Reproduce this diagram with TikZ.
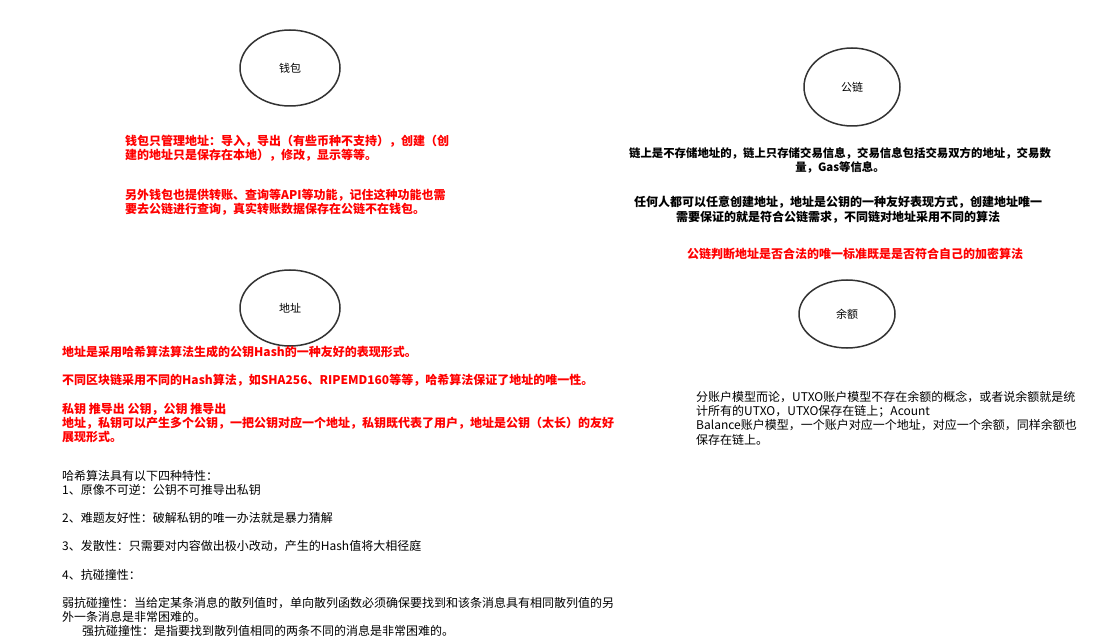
\documentclass[tikz,border=0pt]{standalone}
\usepackage{fontspec}
\setmainfont{Noto Sans CJK SC}
\usepackage{xcolor}
\usepackage{tikz}
\usetikzlibrary{shapes.geometric, positioning}
\tikzset{
  topic/.style={ellipse, draw=black!80, line width=1.5pt, fill=white,
                minimum width=100pt, minimum height=76pt,
                font=\fontsize{11}{13}\selectfont},
  note/.style={inner sep=0pt, align=left, anchor=north west,
               font=\fontsize{12}{14.2}\selectfont},
  rnote/.style={note, text=red, font=\fontsize{12}{14.2}\selectfont\bfseries},
  cnote/.style={inner sep=0pt, align=center, anchor=north,
                font=\fontsize{12}{14.6}\selectfont\bfseries},
}
\begin{document}
\begin{tikzpicture}[x=1pt, y=-1pt]
  \useasboundingbox[fill=white] (0,0) rectangle (1105,644);
  % topics
  \node[topic] (wallet) at (290,68) {钱包};
  \node[topic, minimum width=96pt, minimum height=78pt] (chain) at (852,87) {公链};
  \node[topic] (addr) at (290,308) {地址};
  \node[topic, minimum width=96pt, minimum height=68pt] (balance) at (847,314) {余额};
  % wallet notes
  \node[rnote] (walletmgr) at (125,135)
        {钱包只管理地址：导入，导出（有些币种不支持），创建（创\\
         建的地址只是保存在本地），修改，显示等等。};
  \node[rnote] (walletapi) at (125,189)
        {另外钱包也提供转账、查询等API等功能，记住这种功能也需\\
         要去公链进行查询，真实转账数据保存在公链不在钱包。};
  % chain notes
  \node[cnote, font=\fontsize{11.4}{14.6}\selectfont\bfseries] (chainstore) at (840,147)
        {链上是不存储地址的，链上只存储交易信息，交易信息包括交易双方的地址，交易数\\
         量，Gas等信息。};
  \node[cnote] (chainaddr) at (838,196)
        {任何人都可以任意创建地址，地址是公钥的一种友好表现方式，创建地址唯一\\
         需要保证的就是符合公链需求，不同链对地址采用不同的算法};
  \node[cnote, text=red] (chainrule) at (855,248)
        {公链判断地址是否合法的唯一标准既是是否符合自己的加密算法};
  % address notes
  \node[rnote] (addrnote) at (62,346)
        {地址是采用哈希算法算法生成的公钥Hash的一种友好的表现形式。\\[14pt]
         不同区块链采用不同的Hash算法，如SHA256、RIPEMD160等等，哈希算法保证了地址的唯一性。\\[14pt]
         私钥 推导出 公钥，公钥 推导出\\
         地址，私钥可以产生多个公钥，一把公钥对应一个地址，私钥既代表了用户，地址是公钥（太长）的友好\\
         展现形式。};
  % hash properties
  \node[note] (hashnote) at (62,470)
        {哈希算法具有以下四种特性：\\
         1、原像不可逆：公钥不可推导出私钥\\[14pt]
         2、难题友好性：破解私钥的唯一办法就是暴力猜解\\[14pt]
         3、发散性：只需要对内容做出极小改动，产生的Hash值将大相径庭\\[14pt]
         4、抗碰撞性：\\[14pt]
         弱抗碰撞性：当给定某条消息的散列值时，单向散列函数必须确保要找到和该条消息具有相同散列值的另\\
         外一条消息是非常困难的。\\
         \hspace*{20pt}强抗碰撞性：是指要找到散列值相同的两条不同的消息是非常困难的。};
  % balance notes
  \node[note] (balancenote) at (696,391)
        {分账户模型而论，UTXO账户模型不存在余额的概念，或者说余额就是统\\
         计所有的UTXO，UTXO保存在链上；Acount\\
         Balance账户模型，一个账户对应一个地址，对应一个余额，同样余额也\\
         保存在链上。};
\end{tikzpicture}
\end{document}
